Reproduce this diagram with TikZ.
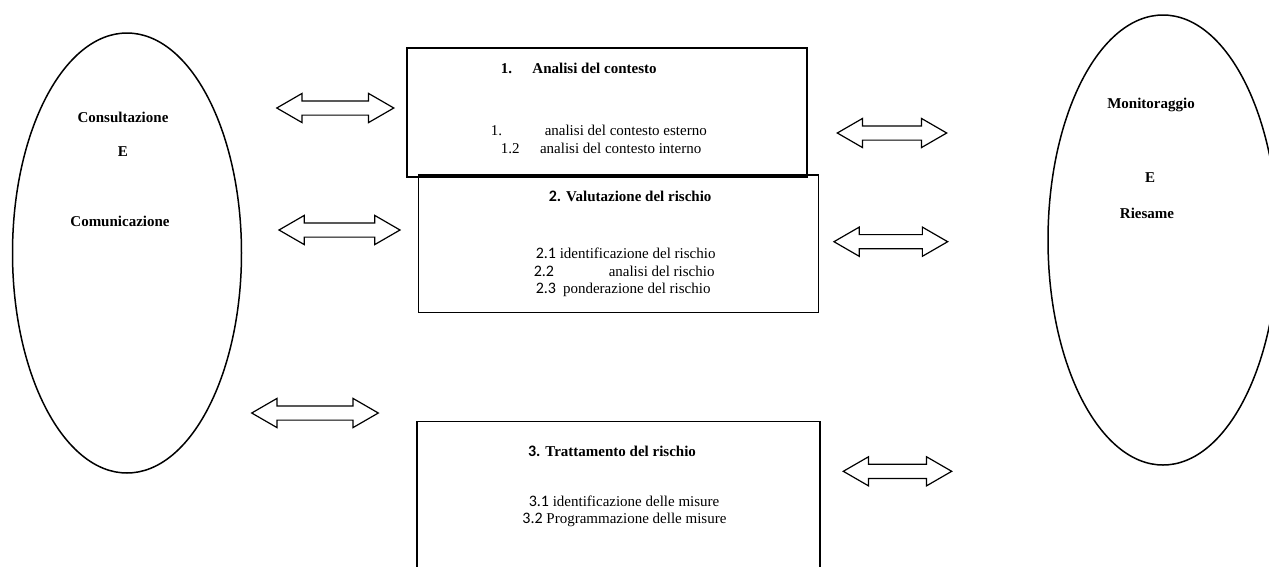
\documentclass[tikz,border=0pt]{standalone}
\usepackage{fontspec}
\setmainfont{Liberation Serif}
\setsansfont{Carlito}
\usetikzlibrary{shapes.geometric,shapes.arrows}

\def\numline#1#2#3{\makebox[#1][l]{#2}#3}

\begin{document}
\begin{tikzpicture}[x=1pt,y=-1pt,font=\fontsize{15}{18}\selectfont,line width=1.5pt]
    \tikzstyle{oval}=[ellipse,draw,inner sep=0pt]
    \tikzstyle{box}=[rectangle,draw,inner sep=0pt]
    \tikzstyle{biarrow}=[double arrow,draw,line width=1.2pt,inner xsep=0pt,inner ysep=6.5pt,double arrow head extend=7.5pt,double arrow tip angle=60]
    \tikzstyle{txt}=[anchor=base west,inner sep=0pt]
    \tikzstyle{lab}=[anchor=base,inner sep=0pt,font=\fontsize{15}{18}\selectfont\bfseries]

    \useasboundingbox (0,0) rectangle (1269,566);

    % side ovals
    \node[oval,minimum width=229pt,minimum height=440pt] (consult) at (127,253) {};
    \node[oval,minimum width=230pt,minimum height=450pt] (monitor) at (1163,240) {};

    \node[lab] (c1) at (123,122.5) {Consultazione};
    \node[lab] (c2) at (123,156) {E};
    \node[lab] (c3) at (120,226.5) {Comunicazione};

    \node[lab] (m1) at (1151,108) {Monitoraggio};
    \node[lab] (m2) at (1150,182.5) {E};
    \node[lab] (m3) at (1147,218.5) {Riesame};

    % process boxes
    \node[box,line width=2pt,minimum width=400pt,minimum height=129pt] (contesto) at (607,112.5) {};
    \node[box,minimum width=400pt,minimum height=137.5pt] (valutazione) at (618.5,243.8) {};
    \node[box,minimum width=403pt,minimum height=160pt] (trattamento) at (618.3,501.7) {};

    \node[txt] (t1) at (500,73.3) {\bfseries\numline{31.7pt}{1.}{Analisi del contesto}};
    \node[txt] (t11) at (490,135) {\numline{54pt}{1.}{analisi del contesto esterno}};
    \node[txt] (t12) at (500,153.3) {\numline{39.3pt}{1.2}{analisi del contesto interno}};

    \node[txt] (t2) at (548,201.7) {\bfseries\textsf{\fontsize{16}{18}\selectfont 2.} Valutazione del rischio};
    \node[txt] (t21) at (535,258.3) {\textsf{\fontsize{16}{18}\selectfont 2.1} identificazione del rischio};
    \node[txt] (t22) at (533,276.7) {\numline{75pt}{\textsf{\fontsize{16}{18}\selectfont 2.2}}{analisi del rischio}};
    \node[txt] (t23) at (535,293.3) {\numline{27.3pt}{\textsf{\fontsize{16}{18}\selectfont 2.3}}{ponderazione del rischio}};

    \node[txt] (t3) at (527.3,456.7) {\bfseries\textsf{\fontsize{16}{18}\selectfont 3.} Trattamento del rischio};
    \node[txt] (t31) at (528,506) {\textsf{\fontsize{16}{18}\selectfont 3.1} identificazione delle misure};
    \node[txt] (t32) at (521.7,523.3) {\textsf{\fontsize{16}{18}\selectfont 3.2} Programmazione delle misure};

    % double arrows
    \node[biarrow,minimum height=117pt] (a1) at (335.3,108) {};
    \node[biarrow,minimum height=121pt] (a2) at (339.5,230) {};
    \node[biarrow,minimum height=126.6pt] (a3) at (315,413) {};
    \node[biarrow,minimum height=109.4pt] (a4) at (892,133) {};
    \node[biarrow,minimum height=113.7pt] (a5) at (890.8,241.7) {};
    \node[biarrow,minimum height=108.4pt] (a6) at (897.5,471.3) {};
\end{tikzpicture}
\end{document}
